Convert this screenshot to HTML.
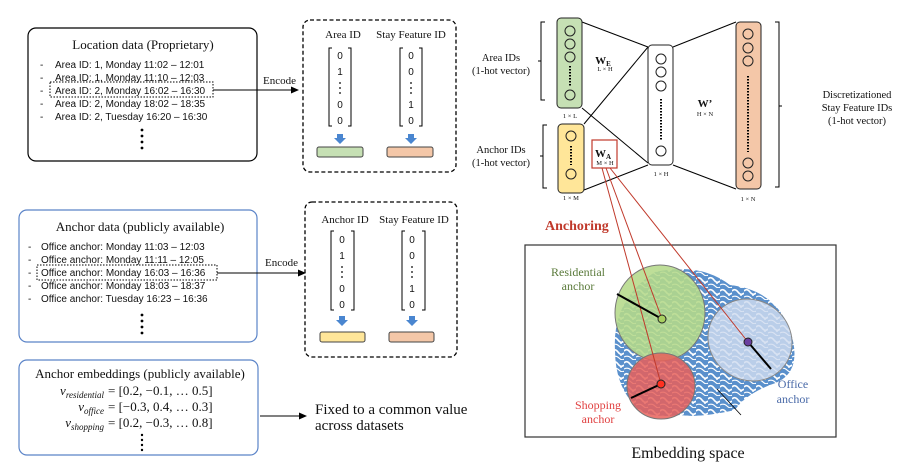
<!DOCTYPE html>
<html><head><meta charset="utf-8"><style>
html,body{margin:0;padding:0;background:#fff;}
svg{display:block;}
.s{font-family:"Liberation Sans",sans-serif;font-size:10px;fill:#111;}
.r{font-family:"Liberation Serif",serif;fill:#111;}
</style></head><body>
<svg width="904" height="474" viewBox="0 0 904 474" xmlns="http://www.w3.org/2000/svg">
<defs>
<marker id="ah" markerWidth="8" markerHeight="8" refX="7" refY="4" orient="auto" markerUnits="userSpaceOnUse"><path d="M0,0.5 L8,4 L0,7.5z" fill="#000"/></marker>
<pattern id="tex" width="12" height="12" patternUnits="userSpaceOnUse"><rect width="12" height="12" fill="#5a90cc"/><path d="M0,3 Q3,0 6,4 T12,5" stroke="#fff" stroke-width="1.6" fill="none"/><path d="M0,9 Q4,7 7,10 T12,11" stroke="#fff" stroke-width="1.2" fill="none"/><circle cx="9" cy="7" r="1" fill="#fff"/></pattern>
</defs>

<!-- Location data -->
<rect x="28" y="28" width="229" height="133" rx="8" fill="#fff" stroke="#000" stroke-width="1.2"/>
<text class="r" x="143" y="49" font-size="13" text-anchor="middle">Location data (Proprietary)</text>
<g class="s">
<text x="40" y="68">-</text><text x="55" y="68">Area ID: 1, Monday 11:02 – 12:01</text>
<text x="40" y="81">-</text><text x="55" y="81">Area ID: 1, Monday 11:10 – 12:03</text>
<text x="40" y="94">-</text><text x="55" y="94">Area ID: 2, Monday 16:02 – 16:30</text>
<text x="40" y="107">-</text><text x="55" y="107">Area ID: 2, Monday 18:02 – 18:35</text>
<text x="40" y="120">-</text><text x="55" y="120">Area ID: 2, Tuesday 16:20 – 16:30</text>
</g>
<g fill="#000"><circle cx="142" cy="130" r="1.4"/><circle cx="142" cy="136" r="1.4"/><circle cx="142" cy="142" r="1.4"/><circle cx="142" cy="148" r="1.4"/></g>
<rect x="50" y="82" width="163" height="15" fill="none" stroke="#000" stroke-dasharray="1.5,1.5"/>
<line x1="213" y1="90" x2="298" y2="90" stroke="#000" marker-end="url(#ah)"/>
<text class="r" x="263" y="84" font-size="11">Encode</text>

<!-- Dashed box 1 -->
<rect x="303" y="20" width="153" height="152" rx="7" fill="none" stroke="#000" stroke-width="1.3" stroke-dasharray="4,2.5"/>
<text class="r" x="343" y="38" font-size="11" text-anchor="middle">Area ID</text>
<text class="r" x="411" y="38" font-size="11" text-anchor="middle">Stay Feature ID</text>
<path d="M332,48 h-3 v78 h3 M348,48 h3 v78 h-3" fill="none" stroke="#000"/>
<path d="M403,48 h-3 v78 h3 M419,48 h3 v78 h-3" fill="none" stroke="#000"/>
<g class="s" text-anchor="middle">
<text x="340" y="59">0</text><text x="340" y="75">1</text><text x="340" y="108">0</text><text x="340" y="124">0</text>
<text x="411" y="59">0</text><text x="411" y="75">0</text><text x="411" y="108">1</text><text x="411" y="124">0</text>
</g>
<g fill="#000"><circle cx="340" cy="83" r="0.9"/><circle cx="340" cy="88" r="0.9"/><circle cx="340" cy="93" r="0.9"/>
<circle cx="411" cy="83" r="0.9"/><circle cx="411" cy="88" r="0.9"/><circle cx="411" cy="93" r="0.9"/></g>
<path d="M337,134 h6 v4 h3 l-6,6 l-6,-6 h3z" fill="#4a86d0"/>
<path d="M408,134 h6 v4 h3 l-6,6 l-6,-6 h3z" fill="#4a86d0"/>
<rect x="317" y="147" width="46" height="10" rx="2" fill="#c6e0b4" stroke="#444"/>
<rect x="387" y="147" width="46" height="10" rx="2" fill="#f4c7a8" stroke="#444"/>

<!-- Anchor data -->
<rect x="19" y="210" width="238" height="132" rx="8" fill="#fff" stroke="#5b84c8" stroke-width="1.2"/>
<text class="r" x="140" y="231" font-size="13" text-anchor="middle">Anchor data (publicly available)</text>
<g class="s">
<text x="28" y="250">-</text><text x="41" y="250">Office anchor: Monday 11:03 – 12:03</text>
<text x="28" y="263">-</text><text x="41" y="263">Office anchor: Monday 11:11 – 12:05</text>
<text x="28" y="276">-</text><text x="41" y="276">Office anchor: Monday 16:03 – 16:36</text>
<text x="28" y="289">-</text><text x="41" y="289">Office anchor: Monday 18:03 – 18:37</text>
<text x="28" y="302">-</text><text x="41" y="302">Office anchor: Tuesday 16:23 – 16:36</text>
</g>
<g fill="#000"><circle cx="142" cy="315" r="1.4"/><circle cx="142" cy="321" r="1.4"/><circle cx="142" cy="327" r="1.4"/><circle cx="142" cy="333" r="1.4"/></g>
<rect x="37" y="265" width="180" height="15" fill="none" stroke="#000" stroke-dasharray="1.5,1.5"/>
<line x1="217" y1="273" x2="305" y2="273" stroke="#000" marker-end="url(#ah)"/>
<text class="r" x="265" y="266" font-size="11">Encode</text>

<!-- Dashed box 2 -->
<rect x="305" y="202" width="152" height="155" rx="7" fill="none" stroke="#000" stroke-width="1.3" stroke-dasharray="4,2.5"/>
<text class="r" x="345" y="223" font-size="11" text-anchor="middle">Anchor ID</text>
<text class="r" x="414" y="223" font-size="11" text-anchor="middle">Stay Feature ID</text>
<path d="M334,231 h-3 v79 h3 M351,231 h3 v79 h-3" fill="none" stroke="#000"/>
<path d="M405,231 h-3 v79 h3 M422,231 h3 v79 h-3" fill="none" stroke="#000"/>
<g class="s" text-anchor="middle">
<text x="342" y="243">0</text><text x="342" y="259">1</text><text x="342" y="292">0</text><text x="342" y="308">0</text>
<text x="412" y="243">0</text><text x="412" y="259">0</text><text x="412" y="292">1</text><text x="412" y="308">0</text>
</g>
<g fill="#000"><circle cx="342" cy="267" r="0.9"/><circle cx="342" cy="272" r="0.9"/><circle cx="342" cy="277" r="0.9"/>
<circle cx="412" cy="267" r="0.9"/><circle cx="412" cy="272" r="0.9"/><circle cx="412" cy="277" r="0.9"/></g>
<path d="M339,316 h6 v4 h3 l-6,6 l-6,-6 h3z" fill="#4a86d0"/>
<path d="M409,316 h6 v4 h3 l-6,6 l-6,-6 h3z" fill="#4a86d0"/>
<rect x="320" y="332" width="45" height="10" rx="2" fill="#ffe699" stroke="#444"/>
<rect x="389" y="332" width="45" height="10" rx="2" fill="#f4c7a8" stroke="#444"/>

<!-- Anchor embeddings -->
<rect x="19" y="360" width="239" height="95" rx="8" fill="#fff" stroke="#5b84c8" stroke-width="1.2"/>
<text class="r" x="140" y="378" font-size="13" text-anchor="middle">Anchor embeddings (publicly available)</text>
<g class="r" font-size="13">
<text x="104" y="395" text-anchor="end" font-style="italic">v<tspan font-size="9" dy="3">residential</tspan></text>
<text x="108" y="395">= [0.2, −0.1, … 0.5]</text>
<text x="104" y="411" text-anchor="end" font-style="italic">v<tspan font-size="9" dy="3">office</tspan></text>
<text x="108" y="411">= [−0.3, 0.4, … 0.3]</text>
<text x="104" y="427" text-anchor="end" font-style="italic">v<tspan font-size="9" dy="3">shopping</tspan></text>
<text x="108" y="427">= [0.2, −0.3, … 0.8]</text>
</g>
<g fill="#000"><circle cx="142" cy="435" r="1.2"/><circle cx="142" cy="440" r="1.2"/><circle cx="142" cy="445" r="1.2"/><circle cx="142" cy="450" r="1.2"/></g>
<line x1="260" y1="416" x2="306" y2="416" stroke="#000" marker-end="url(#ah)"/>
<text class="r" x="315" y="414" font-size="15">Fixed to a common value</text>
<text class="r" x="315" y="430" font-size="15">across datasets</text>

<!-- Network -->
<g stroke="#000" stroke-width="1" fill="none">
<line x1="582" y1="22" x2="648" y2="47"/>
<line x1="582" y1="108" x2="648" y2="163"/>
<line x1="584" y1="124" x2="648" y2="47"/>
<line x1="584" y1="190" x2="648" y2="165"/>
<line x1="673" y1="47" x2="736" y2="22"/>
<line x1="673" y1="165" x2="736" y2="189"/>
<path d="M545,22 h-4 v78 h4 M541,61 h-3"/>
<path d="M547,125 h-4 v63 h4 M543,156 h-3"/>
<path d="M775,22 h4 v165 h-4 M779,106 h3"/>
</g>
<rect x="557" y="18" width="25" height="90" rx="4" fill="#c6e0b4" stroke="#222"/>
<rect x="558" y="124" width="26" height="69" rx="4" fill="#ffe699" stroke="#222"/>
<rect x="648" y="45" width="25" height="120" rx="4" fill="#fff" stroke="#222"/>
<rect x="736" y="22" width="25" height="167" rx="4" fill="#f4c7a8" stroke="#222"/>
<g fill="none" stroke="#222">
<circle cx="570" cy="31" r="5"/><circle cx="570" cy="44" r="5"/><circle cx="570" cy="57" r="5"/><circle cx="570" cy="95" r="5"/>
<circle cx="571" cy="136" r="5"/><circle cx="571" cy="174" r="5"/>
<circle cx="661" cy="59" r="5"/><circle cx="661" cy="72" r="5"/><circle cx="661" cy="86" r="5"/><circle cx="661" cy="151" r="5"/>
<circle cx="748" cy="34" r="5"/><circle cx="748" cy="48" r="5"/><circle cx="748" cy="61" r="5"/><circle cx="748" cy="163" r="5"/><circle cx="748" cy="176" r="5"/>
</g>
<g stroke="#000" stroke-width="2" stroke-dasharray="1.5,1.5">
<line x1="570" y1="66" x2="570" y2="86"/>
<line x1="571" y1="146" x2="571" y2="165"/>
<line x1="661" y1="99" x2="661" y2="140"/>
<line x1="748" y1="76" x2="748" y2="152"/>
</g>
<g class="r" font-size="10.5" text-anchor="middle">
<text x="501" y="61">Area IDs</text><text x="501" y="74">(1-hot vector)</text>
<text x="501" y="153">Anchor IDs</text><text x="501" y="166">(1-hot vector)</text>
<text x="857" y="98">Discretizationed</text><text x="857" y="111">Stay Feature IDs</text><text x="857" y="124">(1-hot vector)</text>
</g>
<g class="r" font-size="6.5" text-anchor="middle">
<text x="570" y="118">1 × L</text><text x="571" y="200">1 × M</text><text x="661" y="176">1 × H</text><text x="748" y="201">1 × N</text>
<text x="605" y="71">L × H</text><text x="605" y="165">M × H</text><text x="705" y="116">H × N</text>
</g>
<g class="r" font-weight="bold" font-size="11" text-anchor="middle">
<text x="603" y="64">W<tspan font-size="7" dy="2">E</tspan></text>
<text x="603" y="157">W<tspan font-size="7" dy="2">A</tspan></text>
<text x="705" y="107">W’</text>
</g>
<rect x="592" y="140" width="25" height="28" fill="none" stroke="#c0392b" stroke-width="1.2"/>
<text class="r" x="545" y="230" font-size="14" font-weight="bold" style="fill:#c0392b">Anchoring</text>

<!-- Embedding space -->
<rect x="525" y="245" width="311" height="192" fill="#fff" stroke="#333" stroke-width="1.2"/>
<path d="M655,272 Q700,262 730,285 Q775,290 790,330 Q805,375 770,385 Q745,395 735,410 Q700,418 680,415 Q640,420 630,400 Q615,380 615,350 Q612,300 655,272z" fill="url(#tex)"/>
<ellipse cx="660" cy="313" rx="45" ry="48" fill="#b5d98a" fill-opacity="0.88" stroke="#777"/>
<ellipse cx="750" cy="340" rx="43" ry="40" transform="rotate(35 750 340)" fill="#d0dcef" fill-opacity="0.82" stroke="#888"/>
<ellipse cx="661" cy="386" rx="34" ry="33" fill="#e8605a" fill-opacity="0.85" stroke="#777"/>
<g stroke="#c0392b" stroke-width="1">
<line x1="606" y1="168" x2="662" y2="319"/>
<line x1="602" y1="168" x2="661" y2="384"/>
<line x1="610" y1="168" x2="748" y2="342"/>
</g>
<g stroke="#000">
<line x1="617" y1="294" x2="662" y2="319" stroke-width="2"/>
<line x1="748" y1="342" x2="771" y2="369" stroke-width="2"/>
<line x1="661" y1="384" x2="631" y2="398" stroke-width="2"/>
<line x1="717" y1="389" x2="741" y2="415" stroke-width="0.8"/>
</g>
<circle cx="662" cy="319" r="4" fill="#a8d060" stroke="#222"/>
<circle cx="748" cy="342" r="4" fill="#6a3fa0" stroke="#222"/>
<circle cx="661" cy="384" r="4" fill="#ff3020" stroke="#222"/>
<g class="r" font-size="12" text-anchor="middle">
<text x="578" y="276" style="fill:#5a7a3a">Residential</text><text x="578" y="290" style="fill:#5a7a3a">anchor</text>
<text x="793" y="388" style="fill:#4a6aa8">Office</text><text x="793" y="403" style="fill:#4a6aa8">anchor</text>
<text x="598" y="409" style="fill:#e04040">Shopping</text><text x="598" y="423" style="fill:#e04040">anchor</text>
</g>
<text class="r" x="688" y="458" font-size="16" text-anchor="middle">Embedding space</text>
</svg>
</body></html>
